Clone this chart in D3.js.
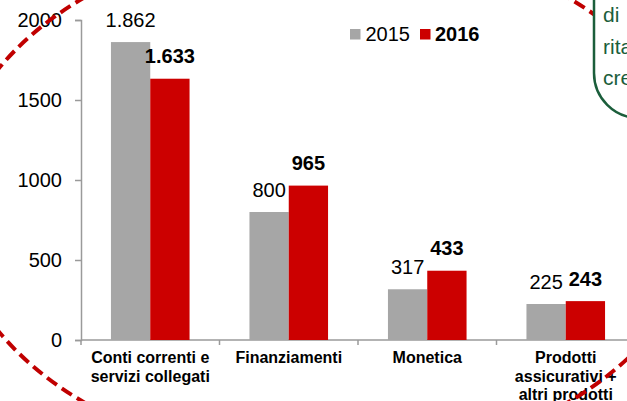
<!DOCTYPE html>
<html>
<head>
<meta charset="utf-8">
<script src="https://cdn.jsdelivr.net/npm/d3@7"></script>
<style>
  body { margin: 0; background: #fff; }
  svg { display: block; font-family: "Liberation Sans", Arial, sans-serif; }
</style>
</head>
<body>
<svg width="627" height="401"></svg>
<script>
const CATEGORIES = ['Conti correnti e servizi collegati', 'Finanziamenti', 'Monetica', 'Prodotti assicurativi + altri prodotti'];
const CATEGORY_LINES = [['Conti correnti e', 'servizi collegati'], ['Finanziamenti'], ['Monetica'], ['Prodotti', 'assicurativi +', 'altri prodotti']];
const SERIES = ['2015', '2016'];
const VALUES_2015 = [1862, 800, 317, 225];
const VALUES_2016 = [1633, 965, 433, 243];
const Y_TICKS = [0, 500, 1000, 1500, 2000];
const COLORS = { '2015': '#a6a6a6', '2016': '#cc0000' };
const NOTE_LINES = ['di', 'rita', 'cre'];

const rows = CATEGORIES.map((c, i) => ({ category: c, lines: CATEGORY_LINES[i], '2015': VALUES_2015[i], '2016': VALUES_2016[i] }));

const it = d3.formatLocale({ decimal: ',', thousands: '.', grouping: [3], currency: ['€', ''] });
const fmt = it.format(',');

const svg = d3.select('svg');

const x0 = d3.scaleBand().domain(CATEGORIES).range([81, 635]).paddingInner(0).paddingOuter(0);
const x1 = d3.scaleBand().domain(SERIES).range([0, x0.bandwidth()]).paddingInner(0).paddingOuter(0.762);
const y = d3.scaleLinear().domain([0, 2000]).range([340, 20]);

// y axis
const yAxis = svg.append('g')
  .attr('transform', 'translate(81,0)')
  .call(d3.axisLeft(y).tickValues(Y_TICKS).tickSize(6).tickPadding(13).tickFormat(d3.format('d')));
yAxis.select('.domain').attr('stroke', '#9a9a9a').attr('stroke-width', 1.5);
yAxis.selectAll('.tick line').attr('stroke', '#9a9a9a').attr('stroke-width', 1.5);
yAxis.selectAll('.tick text').attr('font-size', 20).attr('fill', '#000').attr('font-family', '"Liberation Sans", Arial, sans-serif');

// x axis line + boundary ticks
svg.append('line')
  .attr('x1', x0.range()[0]).attr('x2', x0.range()[1])
  .attr('y1', y(0)).attr('y2', y(0))
  .attr('stroke', '#9a9a9a').attr('stroke-width', 1.5);
svg.selectAll('.xtick')
  .data(CATEGORIES)
  .enter()
  .append('line')
  .attr('x1', d => x0(d)).attr('x2', d => x0(d))
  .attr('y1', y(0)).attr('y2', y(0) + 5)
  .attr('stroke', '#9a9a9a').attr('stroke-width', 1.5);

// bars
const groups = svg.selectAll('.group')
  .data(rows)
  .enter()
  .append('g')
  .attr('transform', d => `translate(${x0(d.category)},0)`);

groups.selectAll('rect')
  .data(d => SERIES.map(s => ({ s, v: d[s] })))
  .enter()
  .append('rect')
  .attr('x', d => x1(d.s))
  .attr('width', x1.bandwidth())
  .attr('y', d => y(d.v))
  .attr('height', d => y(0) - y(d.v))
  .attr('fill', d => COLORS[d.s]);

groups.selectAll('.val')
  .data(d => SERIES.map(s => ({ s, v: d[s] })))
  .enter()
  .append('text')
  .attr('x', d => x1(d.s) + x1.bandwidth() / 2)
  .attr('y', d => y(d.v) - 15.5)
  .attr('text-anchor', 'middle')
  .attr('font-size', 20)
  .attr('font-weight', d => (d.s === '2016' ? 'bold' : 'normal'))
  .text(d => fmt(d.v));

// category labels
groups.append('text')
  .attr('text-anchor', 'middle')
  .attr('font-size', 16)
  .attr('font-weight', 'bold')
  .selectAll('tspan')
  .data(d => d.lines)
  .enter()
  .append('tspan')
  .attr('x', x0.bandwidth() / 2)
  .attr('y', (d, i) => y(0) + 23.3 + i * 18.5)
  .text(d => d);

// legend
const legend = svg.append('g').attr('transform', 'translate(350,29)');
const lg = legend.selectAll('g')
  .data(SERIES)
  .enter()
  .append('g')
  .attr('transform', (d, i) => `translate(${i * 70},0)`);
lg.append('rect').attr('width', 10.5).attr('height', 10.5).attr('fill', d => COLORS[d]);
lg.append('text')
  .attr('x', (d, i) => (i ? 15 : 15.5))
  .attr('y', 11.7)
  .attr('font-size', 20)
  .attr('font-weight', d => (d === '2016' ? 'bold' : 'normal'))
  .text(d => d);

// dashed red ellipse from the slide
svg.append('ellipse')
  .attr('cx', 326).attr('cy', 200)
  .attr('rx', 377.6).attr('ry', 263.6)
  .attr('fill', 'none')
  .attr('stroke', '#c00000')
  .attr('stroke-width', 4)
  .attr('stroke-dasharray', '12 6');

// green note box, cut by the frame
svg.append('rect')
  .attr('x', 594).attr('y', -60)
  .attr('width', 120).attr('height', 178)
  .attr('rx', 45).attr('ry', 45)
  .attr('fill', '#fff')
  .attr('stroke', '#1b5e3b')
  .attr('stroke-width', 2.5);
svg.append('g')
  .selectAll('text')
  .data(NOTE_LINES)
  .enter()
  .append('text')
  .attr('x', 603)
  .attr('y', (d, i) => 22 + i * 31.5)
  .attr('font-size', 21)
  .attr('fill', '#1b5e3b')
  .text(d => d);
</script>
</body>
</html>
